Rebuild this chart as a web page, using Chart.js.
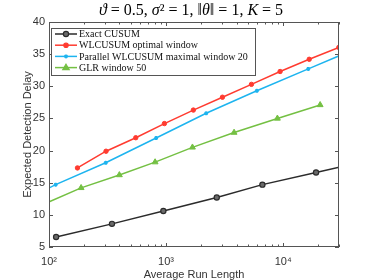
<!DOCTYPE html>
<html>
<head>
<meta charset="utf-8">
<script src="https://cdn.jsdelivr.net/npm/chart.js@4.4.1/dist/chart.umd.min.js"></script>
<style>
  html, body { margin: 0; padding: 0; background: #fff; }
  #wrap { width: 374px; height: 280px; }
</style>
</head>
<body>
<div id="wrap"><canvas id="chart"></canvas></div>
<script>
// axis limits / ticks
const xMin = 100, xMax = 30000;
const yMin = 5, yMax = 40, yStep = 5;
const xTickValues = [100, 200, 300, 400, 500, 600, 700, 800, 900,
                     1000, 2000, 3000, 4000, 5000, 6000, 7000, 8000, 9000,
                     10000, 20000, 30000];
const xTickLabels = { 100: '10²', 1000: '10³', 10000: '10⁴' };

// series (ARL, delay). End points outside the axes are estimates of clipped data
const exactArl   = [115, 345, 948, 2710, 6650, 19100, 50000];
const exactDelay = [6.55, 8.6, 10.6, 12.7, 14.7, 16.6, 18.3];

const wlArl   = [175, 307, 551, 968, 1710, 3030, 5360, 9420, 16700, 29900];
const wlDelay = [17.3, 19.9, 22.0, 24.2, 26.3, 28.3, 30.3, 32.3, 34.2, 36.05];

const parArl   = [80, 114, 305, 822, 2200, 5960, 16400, 45000];
const parDelay = [13.3, 14.7, 18.1, 21.95, 25.8, 29.3, 32.7, 36.1];

const glrArl   = [70, 188, 399, 806, 1680, 3810, 8930, 20700];
const glrDelay = [10.8, 14.2, 16.2, 18.2, 20.5, 22.8, 25.0, 27.1];

const seriesNames = ['Exact CUSUM', 'WLCUSUM optimal window',
                     'Parallel WLCUSUM maximal window 20', 'GLR window 50'];

function toPoints(xs, ys) {
    return xs.map((x, i) => ({ x: x, y: ys[i] }));
}

const axisColor = '#555';
const textColor = '#333';

// small marker painter for the legend
function paintMarker(ctx, style, x, y, r, fill, stroke) {
    ctx.save();
    ctx.fillStyle = fill;
    ctx.strokeStyle = stroke;
    ctx.lineWidth = 1.2;
    ctx.beginPath();
    if (style === 'circle') {
        ctx.arc(x, y, r, 0, Math.PI * 2);
        ctx.fill(); ctx.stroke();
    } else if (style === 'triangle') {
        ctx.moveTo(x, y - r);
        ctx.lineTo(x + r * 0.95, y + r * 0.6);
        ctx.lineTo(x - r * 0.95, y + r * 0.6);
        ctx.closePath();
        ctx.fill(); ctx.stroke();
    } else if (style === 'star') {
        for (let a = 0; a < 4; a++) {
            const t = a * Math.PI / 4;
            ctx.moveTo(x - Math.cos(t) * r, y - Math.sin(t) * r);
            ctx.lineTo(x + Math.cos(t) * r, y + Math.sin(t) * r);
        }
        ctx.stroke();
    }
    ctx.restore();
}

// box, inward ticks, legend and title like the matlab figure
const decorPlugin = {
    id: 'decor',
    afterDatasetsDraw(chart) {
        const ctx = chart.ctx;
        const a = chart.chartArea;
        const xs = chart.scales.x, ys = chart.scales.y;
        ctx.save();
        ctx.strokeStyle = axisColor;
        ctx.lineWidth = 1;
        ctx.strokeRect(Math.round(a.left) + 0.5, Math.round(a.top) + 0.5,
                       Math.round(a.right - a.left) - 1, Math.round(a.bottom - a.top) - 1);
        ctx.beginPath();
        xTickValues.forEach(v => {
            const px = Math.round(xs.getPixelForValue(v)) + 0.5;
            const len = xTickLabels[v] ? 4 : 2.5;
            ctx.moveTo(px, a.bottom); ctx.lineTo(px, a.bottom - len);
            ctx.moveTo(px, a.top); ctx.lineTo(px, a.top + len);
        });
        for (let v = yMin; v <= yMax; v += yStep) {
            const py = Math.round(ys.getPixelForValue(v)) + 0.5;
            ctx.moveTo(a.left, py); ctx.lineTo(a.left + 4, py);
            ctx.moveTo(a.right, py); ctx.lineTo(a.right - 4, py);
        }
        ctx.stroke();

        // legend
        const lx = 51.5, ly = 28.5, lw = 204, lh = 47;
        ctx.fillStyle = '#fff';
        ctx.fillRect(lx, ly, lw, lh);
        ctx.strokeStyle = '#555';
        ctx.strokeRect(lx, ly, lw, lh);
        ctx.font = '10px "Liberation Serif"';
        ctx.textBaseline = 'middle';
        ctx.textAlign = 'left';
        chart.data.datasets.forEach((ds, i) => {
            const ry = 34 + i * 11.2;
            ctx.strokeStyle = ds.borderColor;
            ctx.lineWidth = 1.5;
            ctx.beginPath();
            ctx.moveTo(55, ry); ctx.lineTo(77, ry);
            ctx.stroke();
            paintMarker(ctx, ds.pointStyle, 66, ry, ds.pointRadius,
                        ds.pointBackgroundColor, ds.pointBorderColor);
            ctx.fillStyle = '#111';
            ctx.fillText(ds.label, 79, ry + 0.5);
        });
        ctx.restore();
    },
    afterDraw(chart) {
        const ctx = chart.ctx;
        const parts = [
            ['ϑ', true], [' = 0.5, ', false], ['σ', true], ['²', false],
            [' = 1, ‖', false], ['θ', true], ['‖ = 1, ', false], ['K', true], [' = 5', false]
        ];
        ctx.save();
        ctx.fillStyle = '#000';
        ctx.textBaseline = 'alphabetic';
        ctx.textAlign = 'left';
        const fontFor = it => (it ? 'italic ' : '') + '16px "Liberation Serif"';
        let total = 0;
        parts.forEach(p => { ctx.font = fontFor(p[1]); total += ctx.measureText(p[0]).width; });
        let x = 191 - total / 2;
        parts.forEach(p => {
            ctx.font = fontFor(p[1]);
            ctx.fillText(p[0], x, 15);
            x += ctx.measureText(p[0]).width;
        });
        ctx.restore();
    }
};

const ctx = document.getElementById('chart').getContext('2d');
const chart = new Chart(ctx, {
    type: 'line',
    data: {
        datasets: [{
            label: seriesNames[0],
            data: toPoints(exactArl, exactDelay),
            borderColor: '#2b2b2b',
            pointStyle: 'circle',
            pointRadius: 2.6,
            pointBackgroundColor: '#6a6a6a',
            pointBorderColor: '#2b2b2b',
            pointBorderWidth: 1.2
        }, {
            label: seriesNames[1],
            data: toPoints(wlArl, wlDelay),
            borderColor: '#ff3b30',
            pointStyle: 'circle',
            pointRadius: 2.2,
            pointBackgroundColor: '#ff3b30',
            pointBorderColor: '#ff3b30',
            pointBorderWidth: 1
        }, {
            label: seriesNames[2],
            data: toPoints(parArl, parDelay),
            borderColor: '#1db4ef',
            pointStyle: 'star',
            pointRadius: 2,
            pointBackgroundColor: '#1db4ef',
            pointBorderColor: '#1db4ef',
            pointBorderWidth: 1.3
        }, {
            label: seriesNames[3],
            data: toPoints(glrArl, glrDelay),
            borderColor: '#74c043',
            pointStyle: 'triangle',
            pointRadius: 3.4,
            pointBackgroundColor: '#74c043',
            pointBorderColor: '#74c043',
            pointBorderWidth: 1
        }]
    },
    options: {
        responsive: true,
        maintainAspectRatio: false,
        animation: false,
        devicePixelRatio: 1,
        layout: { padding: { left: 0, right: 35, top: 22, bottom: 0 } },
        elements: { line: { borderWidth: 1.5, tension: 0 } },
        plugins: {
            legend: { display: false },
            title: { display: false },
            tooltip: { enabled: false }
        },
        scales: {
            x: {
                type: 'logarithmic',
                min: xMin,
                max: xMax,
                grid: { display: false, drawTicks: false },
                border: { display: false },
                afterBuildTicks: scale => {
                    scale.ticks = xTickValues.map(v => ({ value: v }));
                },
                afterFit: scale => { scale.height = 33; },
                ticks: {
                    autoSkip: false,
                    maxRotation: 0,
                    padding: 8,
                    color: textColor,
                    font: { family: 'Liberation Sans', size: 11 },
                    callback: v => xTickLabels[v] || ''
                },
                title: {
                    display: true,
                    text: 'Average Run Length',
                    color: textColor,
                    font: { family: 'Liberation Sans', size: 11, lineHeight: 1 },
                    padding: { top: 0, bottom: 0 }
                }
            },
            y: {
                min: yMin,
                max: yMax,
                grid: { display: false, drawTicks: false },
                border: { display: false },
                afterFit: scale => { scale.width = 49; },
                ticks: {
                    stepSize: yStep,
                    padding: 4,
                    color: textColor,
                    font: { family: 'Liberation Sans', size: 11 }
                },
                title: {
                    display: true,
                    text: 'Expected Detection Delay',
                    color: textColor,
                    font: { family: 'Liberation Sans', size: 11 },
                    padding: { top: 21, bottom: 0 }
                }
            }
        }
    },
    plugins: [decorPlugin]
});
</script>
</body>
</html>
